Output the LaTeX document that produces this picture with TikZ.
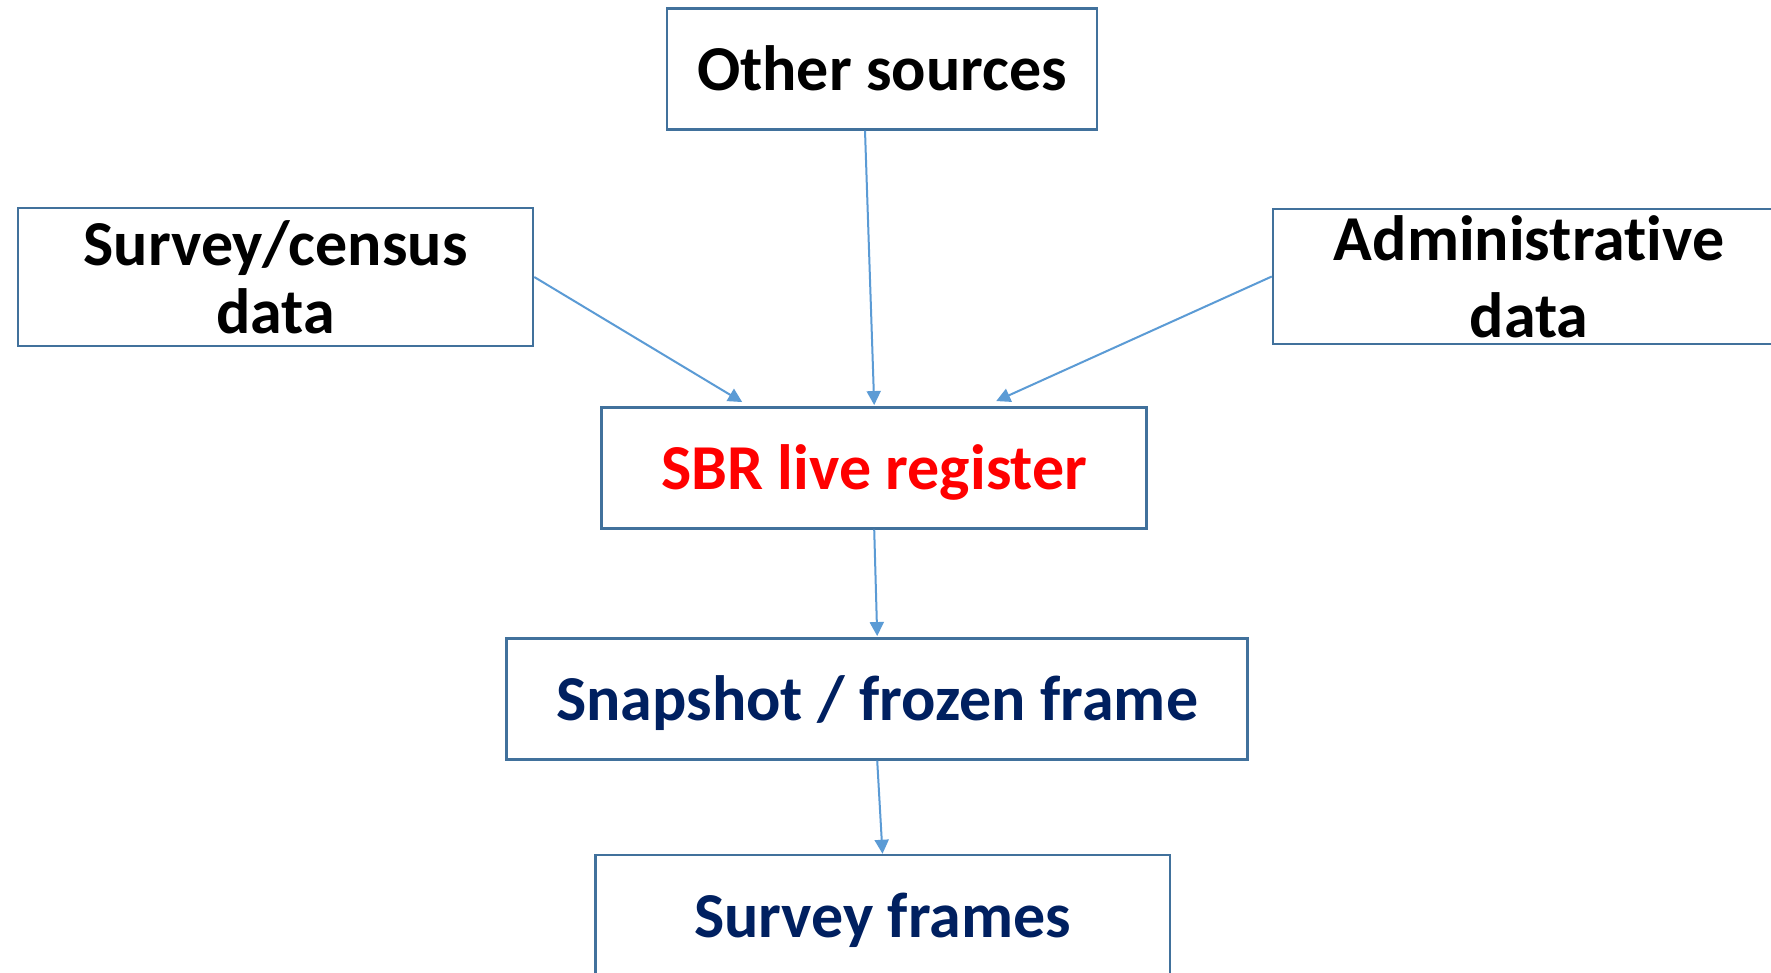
\documentclass[tikz,border=0pt]{standalone}
\usepackage{fontspec}
\setmainfont{Carlito}[Ligatures=NoCommon]
\usetikzlibrary{arrows.meta}
\definecolor{boxblue}{RGB}{65,113,156}
\definecolor{arrblue}{RGB}{91,155,213}
\definecolor{navy}{RGB}{0,32,96}
\definecolor{regred}{RGB}{255,0,0}
\begin{document}
\begin{tikzpicture}[x=1pt,y=-1pt,
  box/.style={draw=boxblue, line width=2.5pt, fill=white, inner sep=0pt, align=center,
    font=\bfseries\fontsize{64}{68}\selectfont},
  oneline/.style={text height=43pt, text depth=0pt},
  conn/.style={draw=arrblue, line width=2pt, -{Triangle[length=14pt,width=14pt]}}]
\useasboundingbox (0,0) rectangle (1771,972);
\clip (0,0) rectangle (1771,972);
\fill[white] (0,0) rectangle (1771,972);
\node[box, oneline, minimum width=430pt, minimum height=121pt] (os) at (882,68.8) {Other sources};
\node[box, minimum width=515pt, minimum height=138pt] (sv) at (275.5,277) {Survey/census\\data};
\node[box, minimum width=512pt, minimum height=135pt,
  font=\bfseries\fontsize{64}{77}\selectfont] (ad) at (1529,276.5) {Administrative\\data};
\node[box, oneline, minimum width=545pt, minimum height=121pt, text=regred] (sbr) at (874.2,467.8) {SBR live register};
\node[box, oneline, minimum width=741pt, minimum height=121pt, text=navy] (snap) at (877.2,698.8) {Snapshot / frozen frame};
\node[box, oneline, minimum width=574.5pt, minimum height=121pt, text=navy] (sf) at (882.5,915.5) {Survey frames};
\draw[conn] (sv.east) -- ([xshift=-132pt,yshift=4pt]sbr.north);
\draw[conn] ([xshift=-17pt]os.south) -- ([yshift=1pt]sbr.north);
\draw[conn] (ad.west) -- ([xshift=122pt,yshift=5pt]sbr.north);
\draw[conn] (sbr.south) -- ([yshift=1pt]snap.north);
\draw[conn] (snap.south) -- (sf.north);
\end{tikzpicture}
\end{document}
